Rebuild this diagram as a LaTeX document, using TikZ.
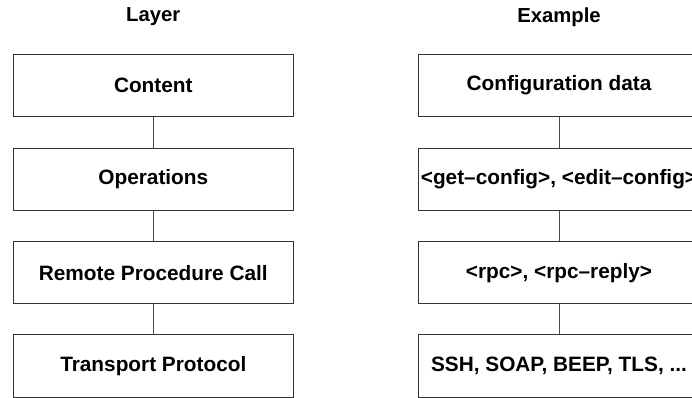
\documentclass[tikz,border=0pt]{standalone}
\usepackage{fontspec}
\setmainfont{Liberation Sans}
\begin{document}
\begin{tikzpicture}[x=1pt,y=-1pt,
  lbox/.style={draw=black!80,line width=1pt,minimum width=280pt,minimum height=62.3pt,inner sep=0pt,anchor=north,font=\fontsize{20.8}{24}\selectfont\bfseries},
  title/.style={font=\fontsize{20.3}{24}\selectfont\bfseries,inner sep=0pt},
  link/.style={draw=black!70,line width=1pt}]
\useasboundingbox (0,0) rectangle (692,397);
\node[title] (tl) at (153.3,17) {Layer};
\node[title] (tr) at (559,17) {Example};
\node[lbox] (l1) at (153.3,53.7) {Content};
\node[lbox] (l2) at (153.3,147.7) {Operations};
\node[lbox] (l3) at (153.3,241) {Remote Procedure Call};
\node[lbox] (l4) at (153.3,334.3) {Transport Protocol};
\node[lbox,minimum width=282pt] (r1) at (559,53.7) {Configuration data};
\node[lbox,minimum width=282pt] (r2) at (559,147.7) {\makebox[0pt][c]{<get--config>, <edit--config>}};
\node[lbox,minimum width=282pt] (r3) at (559,241) {<rpc>, <rpc--reply>};
\node[lbox,minimum width=282pt] (r4) at (559,334.3) {SSH, SOAP, BEEP, TLS, ...};
\draw[link] (l1.south) -- (l2.north);
\draw[link] (l2.south) -- (l3.north);
\draw[link] (l3.south) -- (l4.north);
\draw[link] (r1.south) -- (r2.north);
\draw[link] (r2.south) -- (r3.north);
\draw[link] (r3.south) -- (r4.north);
\end{tikzpicture}
\end{document}
